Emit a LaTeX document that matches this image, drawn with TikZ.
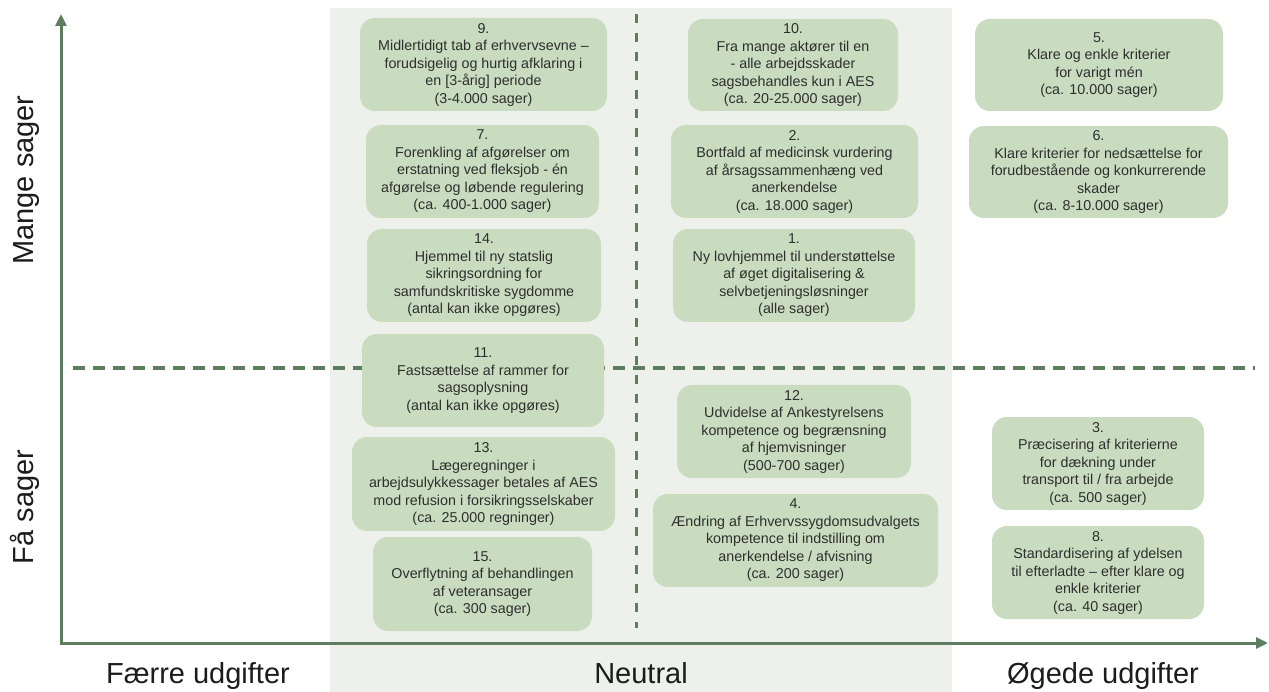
\documentclass[tikz,border=0pt]{standalone}
\usepackage{fontspec}
\setmainfont{Liberation Sans}
\usetikzlibrary{arrows.meta}
\definecolor{axisgreen}{HTML}{5D7E5E}
\definecolor{boxfill}{HTML}{C9DCC0}
\definecolor{panelgray}{HTML}{EEF0EC}
\definecolor{boxtext}{HTML}{2E2E2E}
\definecolor{labeltext}{HTML}{1C1C1C}
\tikzset{
  measure/.style={rounded corners=15pt, fill=boxfill, draw=none, text=boxtext,
    font=\fontsize{14.3}{17.5}\selectfont, align=center, inner sep=0pt},
  axislabel/.style={text=labeltext, font=\fontsize{29}{34}\selectfont, inner sep=0pt, anchor=base},
  hdash/.style={draw=axisgreen, line width=3.2pt, dash pattern=on 12pt off 8pt},
  vdash/.style={draw=axisgreen, line width=3pt, dash pattern=on 9pt off 10pt},
  axisline/.style={draw=axisgreen, line width=3pt, line join=miter,
    {Triangle[length=12pt,width=11pt]}-{Triangle[length=12pt,width=11pt]}}
}
\begin{document}
\begin{tikzpicture}[x=1pt,y=-1pt]
\useasboundingbox (0,0) rectangle (1269,692);
\fill[white] (0,0) rectangle (1269,692);

% neutral cost band
\fill[panelgray] (330,8) rectangle (952,692);

% quadrant dividers
\coordinate (hl) at (73,368);
\coordinate (hr) at (1255,368);
\coordinate (vt) at (636,14);
\coordinate (vb) at (636,628);
\draw[hdash] (hl) -- (hr);
\draw[vdash] (vt) -- (vb);

% axes
\coordinate (ytip) at (61,14);
\coordinate (origin) at (61,643);
\coordinate (xtip) at (1268,643);
\draw[axisline] (ytip) -- (origin) -- (xtip);

% axis labels
\node[axislabel, rotate=90] (lblMange) at (33,180) {Mange sager};
\node[axislabel, rotate=90] (lblFaa) at (33,507) {Få sager};
\node[axislabel] (lblFaerre) at (198,683) {Færre udgifter};
\node[axislabel] (lblNeutral) at (641,683) {Neutral};
\node[axislabel] (lblOegede) at (1103,683) {Øgede udgifter};

% measures: fewer costs / neutral column (left half)
\node[measure, minimum width=247pt, minimum height=93pt] (m9) at (483.5,64.5)
  {9.\\Midlertidigt tab af erhvervsevne –\\forudsigelig og hurtig afklaring i\\en [3-årig] periode\\(3-4.000 sager)};
\node[measure, minimum width=233pt, minimum height=93pt] (m7) at (482.5,171.5)
  {7.\\Forenkling af afgørelser om\\erstatning ved fleksjob - én\\afgørelse og løbende regulering\\(ca. 400-1.000 sager)};
\node[measure, minimum width=234pt, minimum height=93pt] (m14) at (484,275.5)
  {14.\\Hjemmel til ny statslig\\sikringsordning for\\samfundskritiske sygdomme\\(antal kan ikke opgøres)};
\node[measure, minimum width=242pt, minimum height=93pt] (m11) at (483,380.5)
  {11.\\Fastsættelse af rammer for\\sagsoplysning\\(antal kan ikke opgøres)};
\node[measure, minimum width=263pt, minimum height=94pt] (m13) at (483.5,484)
  {13.\\Lægeregninger i\\arbejdsulykkessager betales af AES\\mod refusion i forsikringsselskaber\\(ca. 25.000 regninger)};
\node[measure, minimum width=219pt, minimum height=94pt] (m15) at (482.5,584)
  {15.\\Overflytning af behandlingen\\af veteransager\\(ca. 300 sager)};

% measures: neutral column (right half)
\node[measure, minimum width=210pt, minimum height=92pt] (m10) at (793,65)
  {10.\\Fra mange aktører til en\\- alle arbejdsskader\\sagsbehandles kun i AES\\(ca. 20-25.000 sager)};
\node[measure, minimum width=247pt, minimum height=93pt] (m2) at (794.5,171.5)
  {2.\\Bortfald af medicinsk vurdering\\af årsagssammenhæng ved\\anerkendelse\\(ca. 18.000 sager)};
\node[measure, minimum width=242pt, minimum height=93pt] (m1) at (794,275.5)
  {1.\\Ny lovhjemmel til understøttelse\\af øget digitalisering \&\\selvbetjeningsløsninger\\(alle sager)};
\node[measure, minimum width=234pt, minimum height=93pt] (m12) at (794,431.5)
  {12.\\Udvidelse af Ankestyrelsens\\kompetence og begrænsning\\af hjemvisninger\\(500-700 sager)};
\node[measure, minimum width=285pt, minimum height=93pt] (m4) at (795.5,540.5)
  {4.\\Ændring af Erhvervssygdomsudvalgets\\kompetence til indstilling om\\anerkendelse / afvisning\\(ca. 200 sager)};

% measures: increased costs
\node[measure, minimum width=248pt, minimum height=92pt] (m5) at (1099,65)
  {5.\\Klare og enkle kriterier\\for varigt mén\\(ca. 10.000 sager)};
\node[measure, minimum width=259pt, minimum height=92pt] (m6) at (1098.5,172)
  {6.\\Klare kriterier for nedsættelse for\\forudbestående og konkurrerende\\skader\\(ca. 8-10.000 sager)};
\node[measure, minimum width=212pt, minimum height=93pt] (m3) at (1098,463.5)
  {3.\\Præcisering af kriterierne\\for dækning under\\transport til / fra arbejde\\(ca. 500 sager)};
\node[measure, minimum width=212pt, minimum height=93pt] (m8) at (1098,572.5)
  {8.\\Standardisering af ydelsen\\til efterladte – efter klare og\\enkle kriterier\\(ca. 40 sager)};
\end{tikzpicture}
\end{document}
